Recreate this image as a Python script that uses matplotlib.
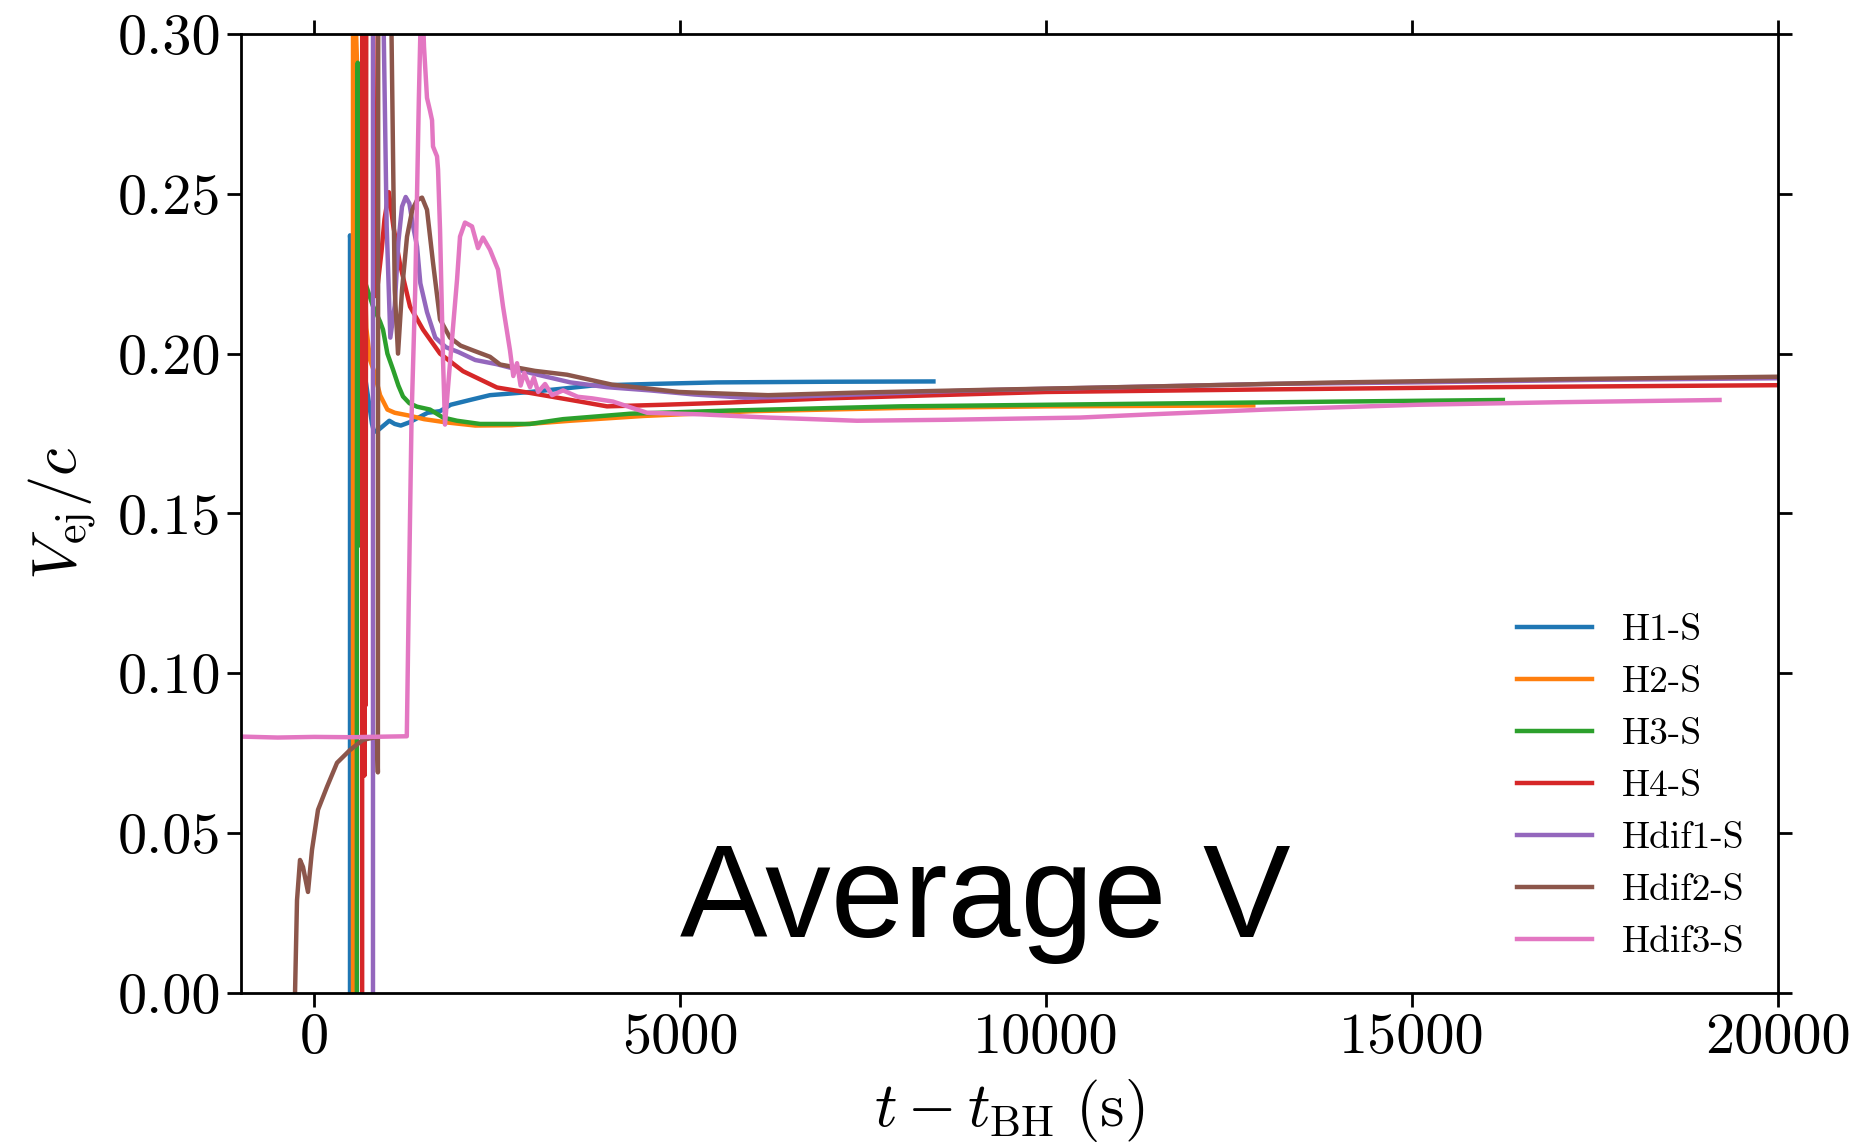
import matplotlib
matplotlib.use('Agg')
import matplotlib.pyplot as plt
from matplotlib.ticker import FormatStrFormatter

matplotlib.rcParams.update({'font.size': 42,
                            'font.family': 'serif',
                            'font.serif': ['cmr10'],
                            'mathtext.fontset': 'cm',
                            'axes.unicode_minus': False,
                            'axes.formatter.use_mathtext': True})

# t - t_BH (s), V_ej / c
h1_t = [489, 489, 520, 600, 680, 735, 790, 817, 870, 1026, 1100, 1183, 1300, 1550, 1719,
        1864, 2129, 2400, 2949, 3800, 4586, 5500, 7037, 8460]
h1_v = [0.0, 0.237, 0.228, 0.21, 0.195, 0.1866, 0.178, 0.1755, 0.176, 0.179, 0.178, 0.1775,
        0.1785, 0.1815, 0.182, 0.184, 0.1855, 0.187, 0.188, 0.190, 0.1905, 0.191, 0.1912, 0.1913]

h2_t = [530, 530, 545, 600, 667, 712, 763, 817, 900, 1000, 1100, 1300, 1500, 1800, 2200,
        2700, 3500, 4500, 6000, 8000, 10000, 12830]
h2_v = [0.0, 0.32, 0.32, 0.28, 0.246, 0.208, 0.198, 0.1945, 0.187, 0.1825, 0.1815, 0.1806,
        0.1795, 0.1785, 0.1775, 0.1776, 0.179, 0.1805, 0.182, 0.183, 0.1835, 0.1838]

h3_t = [583, 583, 588, 595, 600, 607, 613, 620, 628, 635, 645, 700, 800, 900, 940, 1000,
        1077, 1150, 1213, 1300, 1405, 1582, 1760, 1951, 2265, 2949, 3400, 4315, 5681, 8000,
        10000, 12000, 14000, 16240]
h3_v = [0.0, 0.14, 0.27, 0.291, 0.15, 0.28, 0.14, 0.26, 0.17, 0.24, 0.225, 0.222, 0.215, 0.21,
        0.2075, 0.2, 0.195, 0.19, 0.1866, 0.1845, 0.1834, 0.1825, 0.180, 0.179, 0.178, 0.178,
        0.1795, 0.1812, 0.1822, 0.1835, 0.184, 0.1845, 0.185, 0.1855]

h4_t = [655, 655, 662, 670, 678, 686, 694, 702, 712, 722, 800, 830, 870, 920, 960, 1020,
        1080, 1172, 1309, 1487, 1719, 2033, 2497, 2949, 3632, 4000, 4766, 5681, 7000, 10000,
        13000, 16000, 20500]
h4_v = [0.0, 0.068, 0.33, 0.07, 0.33, 0.068, 0.33, 0.09, 0.33, 0.33, 0.33, 0.218, 0.222,
        0.232, 0.242, 0.2505, 0.24, 0.228, 0.2147, 0.2075, 0.2, 0.1945, 0.1894, 0.1877,
        0.185, 0.1835, 0.184, 0.1847, 0.186, 0.188, 0.1888, 0.1895, 0.1902]

hd1_t = [803, 803, 930, 990, 1040, 1100, 1150, 1200, 1250, 1300, 1350, 1405, 1450, 1541,
         1654, 1800, 1969, 2200, 2492, 3016, 3500, 4000, 4586, 5200, 5886, 6500, 7500, 9000,
         11000, 13000, 15000, 17500, 20500]
hd1_v = [0.0, 0.33, 0.33, 0.24, 0.205, 0.215, 0.235, 0.246, 0.249, 0.247, 0.24, 0.2335,
         0.222, 0.213, 0.205, 0.202, 0.2005, 0.198, 0.1967, 0.1936, 0.191, 0.1895, 0.1885,
         0.1872, 0.1862, 0.1865, 0.1873, 0.1885, 0.1895, 0.1905, 0.191, 0.1918, 0.1924]

hd2_t = [-262, -235, -194, -153, -85, -30, 52, 175, 312, 489, 667, 858, 870, 875, 1040,
         1100, 1145, 1200, 1268, 1340, 1405, 1473, 1541, 1623, 1719, 1855, 2000, 2170, 2402,
         2539, 3016, 3454, 4068, 4984, 6200, 7416, 9247, 11420, 14000, 17000, 20500]
hd2_v = [0.0, 0.029, 0.0416, 0.0394, 0.0316, 0.0448, 0.0573, 0.0645, 0.072, 0.076, 0.0792,
         0.0801, 0.069, 0.33, 0.33, 0.22, 0.200, 0.22, 0.2366, 0.245, 0.248, 0.2488, 0.245,
         0.2285, 0.2107, 0.205, 0.2025, 0.201, 0.199, 0.1966, 0.1946, 0.1934, 0.1903, 0.188,
         0.187, 0.1878, 0.1887, 0.1897, 0.191, 0.192, 0.1929]

hd3_t = [-1000, -500, 0, 500, 1000, 1265, 1290, 1330, 1380, 1430, 1460, 1480, 1500, 1541,
         1582, 1610, 1623, 1678, 1692, 1719, 1760, 1787, 1855, 1951, 1992, 2060, 2156, 2238,
         2306, 2402, 2511, 2580, 2675, 2720, 2771, 2820, 2870, 2949, 3000, 3060, 3154, 3250,
         3400, 3600, 3800, 4082, 4547, 5284, 6200, 7416, 8632, 10463, 11420, 13000, 15080,
         17000, 19200]
hd3_v = [0.0802, 0.0799, 0.0801, 0.0800, 0.0802, 0.0803, 0.12, 0.18, 0.22, 0.28, 0.31,
         0.31, 0.296, 0.280, 0.276, 0.273, 0.2648, 0.2617, 0.2576, 0.2388, 0.198, 0.1778,
         0.197, 0.223, 0.2366, 0.241, 0.2398, 0.233, 0.2363, 0.2325, 0.2263, 0.2147, 0.201,
         0.193, 0.197, 0.190, 0.194, 0.1895, 0.1925, 0.188, 0.1905, 0.187, 0.1885, 0.1865,
         0.1860, 0.1850, 0.1815, 0.181, 0.180, 0.179, 0.1793, 0.180, 0.181, 0.1825, 0.184,
         0.1848, 0.1855]

series = [(h1_t, h1_v, 'H1-S'), (h2_t, h2_v, 'H2-S'), (h3_t, h3_v, 'H3-S'),
          (h4_t, h4_v, 'H4-S'), (hd1_t, hd1_v, 'Hdif1-S'), (hd2_t, hd2_v, 'Hdif2-S'),
          (hd3_t, hd3_v, 'Hdif3-S')]

fig = plt.figure(figsize=(18.64, 11.47), dpi=100)
ax = fig.add_subplot(111)
fig.subplots_adjust(left=0.1293, right=0.9539, bottom=0.1343, top=0.9704)

for t, v, name in series:
    ax.plot(t, v, lw=3.2, label=name)

ax.set_xlim(-1000, 20000)
ax.set_ylim(0, 0.3)
ax.set_xticks([0, 5000, 10000, 15000, 20000])
ax.set_yticks([0, 0.05, 0.1, 0.15, 0.2, 0.25, 0.3])
ax.yaxis.set_major_formatter(FormatStrFormatter('%.2f'))
ax.xaxis.set_major_formatter(FormatStrFormatter('%d'))
ax.tick_params(direction='out', length=10, width=2, pad=4,
               top=True, right=True, labelsize=42)
for s in ax.spines.values():
    s.set_linewidth(2)

ax.set_xlabel(r'$t - t_{\rm BH}\ ({\rm s})$', fontsize=45, labelpad=10)
ax.set_ylabel(r'$V_{\rm ej}/c$', fontsize=45, labelpad=14)

ax.text(5000, 0.0175, 'Average V', fontsize=94.5, family='Liberation Sans',
        ha='left', va='baseline')

ax.legend(loc='lower right', frameon=False, fontsize=27, handlelength=2.0,
          handletextpad=0.8, labelspacing=0.5)

plt.savefig('out.png', dpi=100)
